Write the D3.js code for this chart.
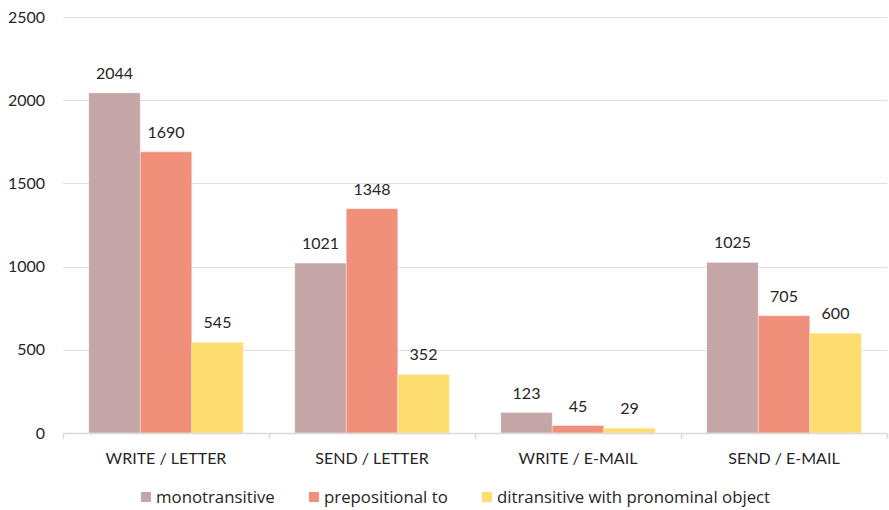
<!DOCTYPE html>
<html>
<head>
<meta charset="utf-8">
<script src="https://cdn.jsdelivr.net/npm/d3@7"></script>
<style>
  html, body { margin: 0; padding: 0; background: #ffffff; }
  svg { display: block; font-family: Lato, "Open Sans", sans-serif; }
</style>
</head>
<body>
<svg id="chart" width="889" height="510"></svg>
<script>
// Verb / object combinations along the x axis
const categories = ["WRITE / LETTER", "SEND / LETTER", "WRITE / E-MAIL", "SEND / E-MAIL"];
// Construction types (one bar each per category)
const seriesNames = ["monotransitive", "prepositional to", "ditransitive with pronominal object"];
const monotransitive = [2044, 1021, 123, 1025];
const prepositionalTo = [1690, 1348, 45, 705];
const ditransitivePron = [545, 352, 29, 600];
const yTicks = [0, 500, 1000, 1500, 2000, 2500];

const colors = ["#c4a6a6", "#f0907a", "#fddc70"];
const seriesValues = [monotransitive, prepositionalTo, ditransitivePron];

const svg = d3.select("#chart");
const margin = { left: 63, right: 2, top: 17, bottom: 77 };
const width = 889, height = 510;

const x0 = d3.scaleBand()
  .domain(categories)
  .range([margin.left, width - margin.right])
  .paddingInner(0)
  .paddingOuter(0);

const x1 = d3.scaleBand()
  .domain(seriesNames)
  .range([0, x0.bandwidth()])
  .paddingInner(0)
  .paddingOuter(0.5);

const y = d3.scaleLinear()
  .domain([0, 2500])
  .range([height - margin.bottom, margin.top]);

const textColor = "#262626";

// Horizontal gridlines and y tick labels
const yAxis = d3.axisLeft(y).tickValues(yTicks).tickFormat(d3.format("d"))
  .tickSize(-(width - margin.left - margin.right)).tickPadding(18);
const gy = svg.append("g").attr("transform", `translate(${margin.left},0)`).call(yAxis);
gy.select(".domain").remove();
gy.selectAll(".tick line").attr("stroke", "#e3dede").attr("stroke-width", 1)
  .attr("shape-rendering", "crispEdges");
gy.selectAll(".tick text").attr("fill", textColor).attr("font-size", 16)
  .attr("font-family", "Lato, sans-serif");

// Bars
const groups = svg.append("g").selectAll("g")
  .data(categories)
  .join("g")
  .attr("transform", d => `translate(${x0(d)},0)`);

groups.selectAll("rect")
  .data((c, ci) => seriesNames.map((s, si) => ({ s, si, v: seriesValues[si][ci] })))
  .join("rect")
  .attr("x", d => x1(d.s))
  .attr("y", d => y(d.v))
  .attr("width", x1.bandwidth())
  .attr("height", d => y(0) - y(d.v))
  .attr("fill", d => colors[d.si])
  .attr("stroke", "#ffffff")
  .attr("stroke-opacity", 0.35)
  .attr("stroke-width", 1);

// Value labels above bars
groups.selectAll("text.val")
  .data((c, ci) => seriesNames.map((s, si) => ({ s, si, v: seriesValues[si][ci] })))
  .join("text")
  .attr("class", "val")
  .attr("x", d => x1(d.s) + x1.bandwidth() / 2)
  .attr("y", d => y(d.v) - 14)
  .attr("text-anchor", "middle")
  .attr("fill", textColor)
  .attr("font-size", 16)
  .text(d => d.v);

// X axis with boundary ticks between categories
const xAxisY = y(0);
const gx = svg.append("g");
gx.append("line")
  .attr("x1", margin.left).attr("x2", width - margin.right)
  .attr("y1", xAxisY + 0.5).attr("y2", xAxisY + 0.5)
  .attr("stroke", "#d9d9d9").attr("stroke-width", 1.5);
const bounds = categories.map(c => x0(c)).concat([x0(categories[categories.length - 1]) + x0.bandwidth()]);
gx.selectAll("line.tk")
  .data(bounds)
  .join("line")
  .attr("class", "tk")
  .attr("x1", d => Math.round(d) + 0.5).attr("x2", d => Math.round(d) + 0.5)
  .attr("y1", xAxisY).attr("y2", xAxisY + 6)
  .attr("stroke", "#d9d9d9").attr("stroke-width", 1.5);
gx.selectAll("text")
  .data(categories)
  .join("text")
  .attr("x", d => x0(d) + x0.bandwidth() / 2)
  .attr("y", xAxisY + 31)
  .attr("text-anchor", "middle")
  .attr("fill", textColor)
  .attr("font-size", 16)
  .text(d => d);

// Legend
const legendX = [141, 309, 482];
const legend = svg.append("g").selectAll("g")
  .data(seriesNames)
  .join("g")
  .attr("transform", (d, i) => `translate(${legendX[i]},492)`);
legend.append("rect")
  .attr("x", 0).attr("y", 0).attr("width", 10).attr("height", 10)
  .attr("fill", (d, i) => colors[i]);
legend.append("text")
  .attr("x", 15).attr("y", 10.5)
  .attr("fill", textColor)
  .attr("font-size", 16.8)
  .attr("font-family", "'Open Sans', sans-serif")
  .text(d => d);
</script>
</body>
</html>
